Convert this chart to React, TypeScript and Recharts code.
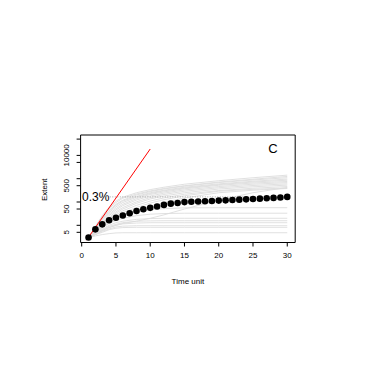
import React from 'react';
import { LineChart, Line, XAxis, YAxis, ReferenceArea, ReferenceDot } from 'recharts';

const FONT = '"Liberation Sans", Arial, Helvetica, sans-serif';

// Time axis
const X_TICKS = [0, 5, 10, 15, 20, 25, 30];
const Y_TICKS = [5, 10, 50, 100, 500, 1000, 5000, 10000, 50000];
const Y_LABELLED = [5, 50, 500, 10000];

// Mean extent (black points)
const TIMES = [1, 2, 3, 4, 5, 6, 7, 8, 9, 10, 11, 12, 13, 14, 15, 16, 17, 18, 19, 20, 21, 22, 23, 24, 25, 26, 27, 28, 29, 30];
const MEAN_EXTENT = [3, 6.7, 11, 16.5, 21, 26.5, 33, 41, 49, 56, 64, 75, 85, 91, 99, 102, 105, 108, 111, 115, 118, 122, 126, 130, 134, 139, 144, 150, 157, 166];

// Simulated runs (grey lines), sampled at SIM_TIMES
const SIM_TIMES = [1, 2, 3, 4, 5, 6, 8, 10, 12, 15, 20, 25, 30];
const SIM_RUNS = [
  [3, 9, 26, 60, 110, 160, 250, 340, 430, 580, 820, 1100, 1420],
  [3, 9, 24, 52, 95, 145, 220, 300, 380, 500, 720, 950, 1250],
  [3, 8, 20, 44, 80, 120, 200, 280, 360, 480, 680, 880, 1100],
  [3, 8, 19, 40, 72, 110, 175, 250, 320, 430, 600, 780, 960],
  [3, 7, 17, 35, 62, 95, 160, 230, 300, 400, 560, 720, 860],
  [3, 7, 15, 30, 52, 80, 140, 210, 270, 370, 520, 650, 760],
  [3, 6, 13, 26, 45, 70, 122, 180, 240, 330, 460, 580, 680],
  [3, 6, 12, 22, 38, 58, 102, 155, 210, 290, 410, 510, 600],
  [3, 5, 11, 20, 33, 50, 88, 135, 180, 250, 360, 450, 530],
  [3, 5, 10, 17, 28, 42, 72, 110, 150, 215, 310, 390, 460],
  [3, 5, 9, 15, 24, 35, 58, 90, 125, 185, 290, 350, 400],
  [3, 5, 8, 13, 20, 28, 45, 68, 95, 150, 250, 320, 380],
  [3, 4, 6, 8, 10, 12, 15, 20, 28, 50, 120, 250, 420],
  [3, 6, 10, 15, 21, 27, 37, 46, 52, 56, 57, 57, 57],
  [3, 5, 8, 12, 16, 20, 26, 30, 32, 33, 33, 33, 33],
  [3, 5, 7, 10, 13, 15, 18, 19.5, 20, 20, 20, 20, 20],
  [3, 4.5, 6.5, 9, 11, 13, 15, 15.5, 15.7, 15.7, 15.7, 15.7, 15.7],
  [3, 4.5, 6, 8, 10, 11.5, 12.5, 12.9, 12.9, 12.9, 12.9, 12.9, 12.9],
  [3, 4, 5.5, 7, 8.5, 9.2, 9.6, 9.6, 9.6, 9.6, 9.6, 9.6, 9.6],
  [3, 4, 5, 6.5, 7.5, 8, 8.2, 8.2, 8.2, 8.2, 8.2, 8.2, 8.2],
  [3, 3.5, 4, 4.4, 4.7, 4.8, 4.8, 4.8, 4.8, 4.8, 4.8, 4.8, 4.8],
];

// Exponential reference line (red)
const EXP_T = [0.7, 10];
const EXP_V = [2.3, 18800];

// Threshold
const THRESHOLD = 166;
const THRESHOLD_T = [4.1, 30];
const THRESHOLD_LABEL = '0.3%';
const PANEL = 'C';

const X_DOMAIN: [number, number] = [-0.16, 31.16];
const Y_DOMAIN: [number, number] = [1.83, 75000];

const meanData = TIMES.map((t, i) => ({ t, v: MEAN_EXTENT[i] }));
const simData = SIM_RUNS.map((run) => SIM_TIMES.map((t, i) => ({ t, v: run[i] })));
const expData = EXP_T.map((t, i) => ({ t, v: EXP_V[i] }));
const thrData = THRESHOLD_T.map((t) => ({ t, v: THRESHOLD }));

const TXT = { fill: '#000', stroke: 'none' };

const XTick = (props: any) => {
  const { x, y, payload } = props;
  return (
    <text x={x} y={y + 6.8} textAnchor="middle" dominantBaseline="central" fontSize={8} fontFamily={FONT} style={TXT}>
      {payload.value}
    </text>
  );
};

const YTick = (props: any) => {
  const { x, y, payload } = props;
  if (!Y_LABELLED.includes(payload.value)) return <g />;
  const cx = x - 8.3;
  return (
    <text x={cx} y={y} transform={`rotate(-90, ${cx}, ${y})`} textAnchor="middle" dominantBaseline="central" fontSize={8} fontFamily={FONT} style={TXT}>
      {payload.value}
    </text>
  );
};

export default function App() {
  return (
    <div style={{ position: 'absolute', left: 0, top: 0, width: 376, height: 376, background: '#fff' }}>
      <LineChart width={376} height={376} margin={{ top: 135, right: 80.8, bottom: 103.5, left: 40.6 }}>
        <XAxis
          type="number"
          dataKey="t"
          domain={X_DOMAIN}
          allowDataOverflow
          ticks={X_TICKS}
          interval={0}
          height={30}
          tickSize={4}
          axisLine={false}
          tickLine={{ stroke: '#000', strokeWidth: 1 }}
          tick={XTick}
          label={(p: any) => {
            const vb = p.viewBox || { x: 80.6, y: 242.5, width: 214.6 };
            return (
              <text x={vb.x + vb.width / 2} y={vb.y + 39.2} textAnchor="middle" dominantBaseline="central" fontSize={8} fontFamily={FONT} style={TXT}>
                Time unit
              </text>
            );
          }}
        />
        <YAxis
          type="number"
          dataKey="v"
          scale="log"
          domain={Y_DOMAIN}
          allowDataOverflow
          ticks={Y_TICKS}
          interval={0}
          width={40}
          tickSize={4}
          axisLine={false}
          tickLine={{ stroke: '#000', strokeWidth: 1 }}
          tick={YTick}
          label={(p: any) => {
            const vb = p.viewBox || { x: 40.6, y: 135, width: 40, height: 107.5 };
            const cx = vb.x + vb.width - 36.1;
            const cy = vb.y + vb.height / 2 + 1;
            return (
              <text x={cx} y={cy} transform={`rotate(-90, ${cx}, ${cy})`} textAnchor="middle" dominantBaseline="central" fontSize={8} fontFamily={FONT} style={TXT}>
                Extent
              </text>
            );
          }}
        />
        {simData.map((d, i) => (
          <Line
            key={`sim-${i}`}
            data={d}
            dataKey="v"
            stroke="#dcdcdc"
            strokeWidth={0.9}
            dot={false}
            activeDot={false}
            isAnimationActive={false}
            type="linear"
          />
        ))}
        <Line data={thrData} dataKey="v" stroke="#a8a8a8" strokeWidth={1} strokeDasharray="1 1.5" dot={false} activeDot={false} isAnimationActive={false} type="linear" />
        <Line data={expData} dataKey="v" stroke="#ff0000" strokeWidth={1} dot={false} activeDot={false} isAnimationActive={false} type="linear" />
        <Line
          data={meanData}
          dataKey="v"
          stroke="none"
          dot={{ r: 3.3, fill: '#000', stroke: 'none' }}
          activeDot={false}
          isAnimationActive={false}
          type="linear"
        />
        <ReferenceArea x1={X_DOMAIN[0]} x2={X_DOMAIN[1]} y1={Y_DOMAIN[0]} y2={Y_DOMAIN[1]} fill="none" stroke="#000" strokeWidth={1} ifOverflow="visible" />
        <ReferenceDot
          x={0.05}
          y={THRESHOLD}
          r={0}
          ifOverflow="visible"
          shape={(p: any) => (
            <text x={p.cx} y={p.cy} textAnchor="start" dominantBaseline="central" fontSize={12} fontFamily={FONT} style={TXT}>
              {THRESHOLD_LABEL}
            </text>
          )}
        />
        <ReferenceDot
          x={27.9}
          y={20000}
          r={0}
          ifOverflow="visible"
          shape={(p: any) => (
            <text x={p.cx} y={p.cy} textAnchor="middle" dominantBaseline="central" fontSize={13} fontFamily={FONT} style={TXT}>
              {PANEL}
            </text>
          )}
        />
      </LineChart>
    </div>
  );
}
